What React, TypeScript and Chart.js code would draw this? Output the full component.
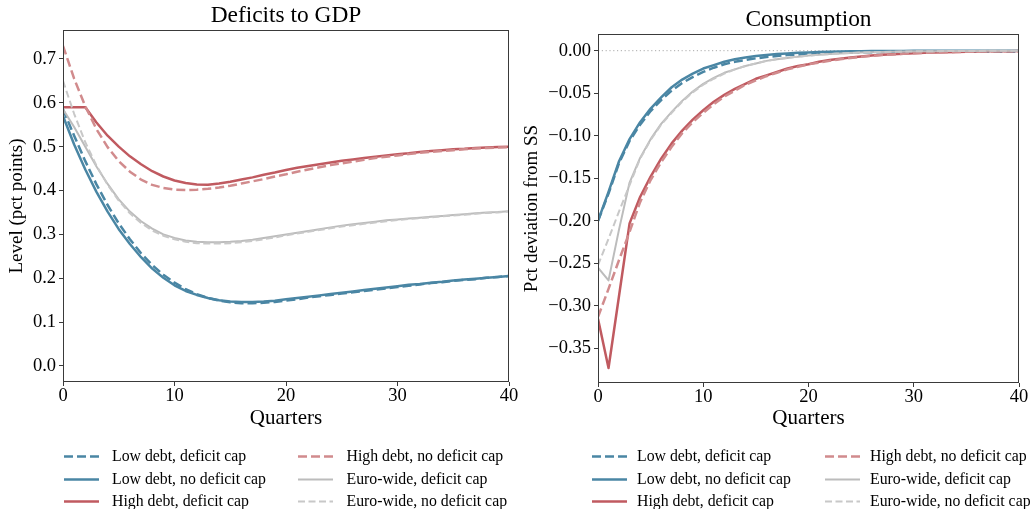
import React, { useEffect, useRef } from 'react';
import { Chart, registerables } from 'chart.js';

Chart.register(...registerables);

// ---------- data ----------
const QUARTERS = [0, 1, 2, 3, 4, 5, 6, 7, 8, 9, 10, 11, 12, 13, 14, 15, 16, 17, 18, 19, 20, 21, 22, 23, 24, 25, 26, 27, 28, 29, 30, 31, 32, 33, 34, 35, 36, 37, 38, 39, 40];
const X_TICKS = [0, 10, 20, 30, 40];
const DEF_Y_TICKS = [0, 0.1, 0.2, 0.3, 0.4, 0.5, 0.6, 0.7];
const CONS_Y_TICKS = [-0.35, -0.3, -0.25, -0.2, -0.15, -0.1, -0.05, 0];

const LEGEND_LABELS = [
  'Low debt, deficit cap',
  'Low debt, no deficit cap',
  'High debt, deficit cap',
  'High debt, no deficit cap',
  'Euro-wide, deficit cap',
  'Euro-wide, no deficit cap',
];

// Deficits to GDP (level, pct points)
const DEF_LOW_CAP = [0.585, 0.525, 0.467, 0.414, 0.367, 0.325, 0.289, 0.257, 0.230, 0.208, 0.190, 0.175, 0.164, 0.155, 0.149, 0.145, 0.143, 0.143, 0.144, 0.146, 0.149, 0.152, 0.156, 0.159, 0.162, 0.165, 0.168, 0.171, 0.174, 0.177, 0.180, 0.183, 0.186, 0.189, 0.191, 0.194, 0.196, 0.198, 0.201, 0.203, 0.205];
const DEF_LOW_NOCAP = [0.570, 0.505, 0.448, 0.397, 0.352, 0.312, 0.278, 0.248, 0.222, 0.201, 0.184, 0.171, 0.162, 0.155, 0.150, 0.147, 0.146, 0.146, 0.147, 0.149, 0.152, 0.155, 0.158, 0.161, 0.164, 0.167, 0.170, 0.173, 0.176, 0.179, 0.182, 0.185, 0.187, 0.190, 0.192, 0.195, 0.197, 0.199, 0.201, 0.203, 0.205];
const DEF_HIGH_CAP = [0.590, 0.590, 0.590, 0.555, 0.525, 0.500, 0.478, 0.460, 0.444, 0.432, 0.423, 0.417, 0.414, 0.413, 0.416, 0.420, 0.425, 0.430, 0.436, 0.441, 0.447, 0.452, 0.456, 0.460, 0.464, 0.468, 0.471, 0.474, 0.477, 0.480, 0.483, 0.485, 0.488, 0.490, 0.492, 0.494, 0.495, 0.497, 0.498, 0.499, 0.500];
const DEF_HIGH_NOCAP = [0.730, 0.655, 0.592, 0.540, 0.499, 0.467, 0.443, 0.425, 0.413, 0.406, 0.402, 0.401, 0.402, 0.404, 0.407, 0.411, 0.416, 0.421, 0.426, 0.432, 0.437, 0.443, 0.448, 0.453, 0.458, 0.462, 0.466, 0.470, 0.474, 0.477, 0.480, 0.483, 0.486, 0.488, 0.490, 0.492, 0.494, 0.496, 0.497, 0.498, 0.499];
const DEF_EURO_CAP = [0.585, 0.545, 0.500, 0.455, 0.415, 0.380, 0.352, 0.330, 0.313, 0.300, 0.292, 0.286, 0.283, 0.282, 0.282, 0.283, 0.285, 0.288, 0.292, 0.296, 0.300, 0.304, 0.308, 0.312, 0.316, 0.320, 0.323, 0.326, 0.329, 0.332, 0.334, 0.336, 0.338, 0.340, 0.342, 0.344, 0.346, 0.348, 0.350, 0.351, 0.353];
const DEF_EURO_NOCAP = [0.650, 0.575, 0.510, 0.457, 0.413, 0.377, 0.348, 0.326, 0.309, 0.297, 0.289, 0.283, 0.280, 0.279, 0.279, 0.280, 0.282, 0.285, 0.289, 0.293, 0.298, 0.302, 0.306, 0.310, 0.314, 0.318, 0.321, 0.324, 0.327, 0.330, 0.333, 0.335, 0.337, 0.339, 0.341, 0.343, 0.345, 0.347, 0.349, 0.350, 0.352];

// Consumption (pct deviation from SS)
const CONS_LOW_CAP = [-0.200, -0.168, -0.132, -0.106, -0.087, -0.071, -0.058, -0.047, -0.038, -0.031, -0.025, -0.020, -0.016, -0.013, -0.011, -0.009, -0.0075, -0.0062, -0.0052, -0.0044, -0.0037, -0.0032, -0.0028, -0.0025, -0.0022, -0.002, -0.0018, -0.0017, -0.0016, -0.0015, -0.0014, -0.0013, -0.0012, -0.0012, -0.0011, -0.0011, -0.001, -0.001, -0.001, -0.0009, -0.0009];
const CONS_LOW_NOCAP = [-0.200, -0.166, -0.130, -0.104, -0.084, -0.068, -0.055, -0.043, -0.034, -0.027, -0.021, -0.017, -0.013, -0.010, -0.008, -0.0063, -0.005, -0.004, -0.0032, -0.0025, -0.002, -0.0016, -0.0013, -0.001, -0.0008, -0.0006, -0.0005, -0.0004, -0.0003, -0.0003, -0.0002, -0.0002, -0.0001, -0.0001, -0.0001, -0.0001, 0, 0, 0, 0, 0];
const CONS_HIGH_CAP = [-0.315, -0.373, -0.288, -0.203, -0.172, -0.148, -0.127, -0.109, -0.094, -0.081, -0.070, -0.060, -0.052, -0.045, -0.039, -0.033, -0.029, -0.025, -0.021, -0.018, -0.016, -0.013, -0.011, -0.0095, -0.008, -0.0068, -0.0058, -0.0049, -0.0041, -0.0035, -0.003, -0.0025, -0.0021, -0.0018, -0.0015, -0.0012, -0.001, -0.0008, -0.0007, -0.0006, -0.0005];
const CONS_HIGH_NOCAP = [-0.313, -0.280, -0.246, -0.213, -0.178, -0.152, -0.131, -0.113, -0.097, -0.084, -0.073, -0.063, -0.054, -0.047, -0.040, -0.035, -0.030, -0.026, -0.022, -0.019, -0.016, -0.014, -0.012, -0.010, -0.0085, -0.0072, -0.0061, -0.0052, -0.0044, -0.0037, -0.0031, -0.0026, -0.0022, -0.0019, -0.0016, -0.0013, -0.0011, -0.0009, -0.0008, -0.0007, -0.0006];
const CONS_EURO_CAP = [-0.255, -0.270, -0.210, -0.155, -0.126, -0.104, -0.086, -0.072, -0.059, -0.048, -0.039, -0.032, -0.026, -0.022, -0.018, -0.015, -0.012, -0.010, -0.0085, -0.007, -0.0058, -0.0048, -0.004, -0.0033, -0.0027, -0.0022, -0.0018, -0.0015, -0.0012, -0.001, -0.0008, -0.0007, -0.0006, -0.0005, -0.0004, -0.0003, -0.0003, -0.0002, -0.0002, -0.0002, -0.0001];
const CONS_EURO_NOCAP = [-0.252, -0.221, -0.189, -0.158, -0.127, -0.105, -0.087, -0.073, -0.060, -0.049, -0.040, -0.033, -0.027, -0.022, -0.018, -0.015, -0.012, -0.010, -0.0085, -0.007, -0.0058, -0.0048, -0.004, -0.0033, -0.0027, -0.0022, -0.0018, -0.0015, -0.0012, -0.001, -0.0008, -0.0007, -0.0006, -0.0005, -0.0004, -0.0003, -0.0003, -0.0002, -0.0002, -0.0002, -0.0001];
const CONS_ZERO = [0, 0, 0, 0, 0, 0, 0, 0, 0, 0, 0, 0, 0, 0, 0, 0, 0, 0, 0, 0, 0, 0, 0, 0, 0, 0, 0, 0, 0, 0, 0, 0, 0, 0, 0, 0, 0, 0, 0, 0, 0];

// ---------- styles ----------
const BLUE = '#4a86a4';
const RED = '#c05a60';
const RED_LIGHT = '#d18b8d';
const GRAY = '#bcbcbc';
const GRAY_LIGHT = '#c8c8c8';
const DASH = [9, 4];

type Style = { color: string; width: number; dash: number[] };
const STYLES: Style[] = [
  { color: BLUE, width: 2.5, dash: DASH },
  { color: BLUE, width: 2.5, dash: [] },
  { color: RED, width: 2.5, dash: [] },
  { color: RED_LIGHT, width: 2.5, dash: DASH },
  { color: GRAY, width: 2, dash: [] },
  { color: GRAY_LIGHT, width: 2, dash: [7, 3.5] },
];

const FONT = "'Liberation Serif', 'Times New Roman', serif";

function toPoints(vals: number[]) {
  return vals.map((v, i) => ({ x: QUARTERS[i], y: v }));
}

type PanelSpec = {
  title: string;
  yTitle: string;
  series: number[][];
  zero?: number[];
  yMin: number;
  yMax: number;
  yTicks: number[];
  fmt: (v: number) => string;
  yWidth: number;
  xHeight: number;
  padRight: number;
  padTop: number;
  titleY: number;
  cols: { handle: number; text: number }[];
};

const LEGEND_ROWS = [456.5, 479.5, 501.5];

function makeLegendPlugin(cols: { handle: number; text: number }[]) {
  return {
    id: 'seriesLegend',
    afterDraw(chart: any) {
      const ctx = chart.ctx as CanvasRenderingContext2D;
      ctx.save();
      LEGEND_LABELS.forEach((label, i) => {
        const col = cols[Math.floor(i / 3)];
        const y = LEGEND_ROWS[i % 3];
        const st = STYLES[i];
        ctx.strokeStyle = st.color;
        ctx.lineWidth = st.width;
        ctx.lineCap = 'butt';
        ctx.setLineDash(st.dash);
        ctx.beginPath();
        ctx.moveTo(col.handle, y);
        ctx.lineTo(col.handle + 35, y);
        ctx.stroke();
        ctx.setLineDash([]);
        ctx.fillStyle = '#000';
        ctx.font = `15.8px ${FONT}`;
        ctx.textAlign = 'left';
        ctx.textBaseline = 'middle';
        ctx.fillText(label, col.text, y + 0.5);
      });
      ctx.restore();
    },
  };
}

function makeTitlePlugin(text: string, y: number) {
  return {
    id: 'panelTitle',
    afterDraw(chart: any) {
      const { ctx, chartArea } = chart;
      ctx.save();
      ctx.fillStyle = '#000';
      ctx.font = `23.4px ${FONT}`;
      ctx.textAlign = 'center';
      ctx.textBaseline = 'middle';
      ctx.fillText(text, (chartArea.left + chartArea.right) / 2, y);
      ctx.restore();
    },
  };
}

const framePlugin = {
  id: 'frame',
  afterDatasetsDraw(chart: any) {
    const { ctx, chartArea } = chart;
    ctx.save();
    ctx.strokeStyle = '#3a3a3a';
    ctx.lineWidth = 1;
    ctx.strokeRect(
      Math.round(chartArea.left) + 0.5,
      Math.round(chartArea.top) + 0.5,
      Math.round(chartArea.right - chartArea.left) - 1,
      Math.round(chartArea.bottom - chartArea.top) - 1
    );
    ctx.restore();
  },
};

function makeConfig(p: PanelSpec): any {
  const datasets: any[] = [];
  // matplotlib draws later series on top; Chart.js draws index 0 on top
  for (let i = p.series.length - 1; i >= 0; i--) {
    const st = STYLES[i];
    datasets.push({
      label: LEGEND_LABELS[i],
      data: toPoints(p.series[i]),
      borderColor: st.color,
      borderWidth: st.width,
      borderDash: st.dash,
      borderCapStyle: 'butt',
      borderJoinStyle: 'round',
      pointRadius: 0,
      tension: 0,
      fill: false,
    });
  }
  if (p.zero) {
    datasets.push({
      label: 'zero',
      data: toPoints(p.zero),
      borderColor: '#aaaaaa',
      borderWidth: 1,
      borderDash: [1.2, 2.6],
      pointRadius: 0,
      tension: 0,
      fill: false,
    });
  }
  const tickFont = { family: FONT, size: 18.5, lineHeight: 1 };
  const grid = {
    display: true,
    drawOnChartArea: false,
    drawTicks: true,
    tickLength: 4,
    color: '#3a3a3a',
    lineWidth: 1,
  };
  return {
    type: 'line',
    data: { datasets },
    options: {
      responsive: false,
      animation: false,
      devicePixelRatio: 1,
      events: [],
      layout: { padding: { left: 0, right: p.padRight, top: p.padTop, bottom: 80.5 } },
      plugins: {
        legend: { display: false },
        tooltip: { enabled: false },
        title: { display: false },
      },
      scales: {
        x: {
          type: 'linear',
          min: 0,
          max: 40,
          grid,
          border: { display: false },
          afterBuildTicks: (s: any) => {
            s.ticks = X_TICKS.map((v) => ({ value: v }));
          },
          afterFit: (s: any) => {
            s.height = p.xHeight;
            s.paddingLeft = 0;
            s.paddingRight = 0;
          },
          ticks: {
            color: '#000',
            font: tickFont,
            padding: 1,
            maxRotation: 0,
            autoSkip: false,
            callback: (v: number) => String(v),
          },
          title: {
            display: true,
            text: 'Quarters',
            color: '#000',
            font: { family: FONT, size: 21, lineHeight: 1 },
            padding: { top: 0, bottom: 0 },
          },
        },
        y: {
          type: 'linear',
          min: p.yMin,
          max: p.yMax,
          grid,
          border: { display: false },
          afterBuildTicks: (s: any) => {
            s.ticks = p.yTicks.map((v) => ({ value: v }));
          },
          afterFit: (s: any) => {
            s.width = p.yWidth;
            s.paddingTop = 0;
            s.paddingBottom = 0;
          },
          ticks: {
            color: '#000',
            font: tickFont,
            padding: 3,
            autoSkip: false,
            callback: (v: number) => p.fmt(v),
          },
          title: {
            display: true,
            text: p.yTitle,
            color: '#000',
            font: { family: FONT, size: 19, lineHeight: 1 },
            padding: { top: 8, bottom: 0 },
          },
        },
      },
    },
    plugins: [framePlugin, makeTitlePlugin(p.title, p.titleY), makeLegendPlugin(p.cols)],
  };
}

const fmt1 = (v: number) => v.toFixed(1);
const fmt2 = (v: number) => (v < -1e-9 ? '\u2212' : '') + Math.abs(v).toFixed(2);

export default function App() {
  const leftRef = useRef<HTMLCanvasElement>(null);
  const rightRef = useRef<HTMLCanvasElement>(null);

  useEffect(() => {
    const left = new Chart(
      leftRef.current as HTMLCanvasElement,
      makeConfig({
        title: 'Deficits to GDP',
        yTitle: 'Level (pct points)',
        series: [DEF_LOW_CAP, DEF_LOW_NOCAP, DEF_HIGH_CAP, DEF_HIGH_NOCAP, DEF_EURO_CAP, DEF_EURO_NOCAP],
        yMin: -0.0365,
        yMax: 0.766,
        yTicks: DEF_Y_TICKS,
        fmt: fmt1,
        yWidth: 63,
        xHeight: 46.5,
        padRight: 21,
        padTop: 30,
        titleY: 16,
        cols: [
          { handle: 64, text: 112 },
          { handle: 298, text: 346.5 },
        ],
      })
    );
    const right = new Chart(
      rightRef.current as HTMLCanvasElement,
      makeConfig({
        title: 'Consumption',
        yTitle: 'Pct deviation from SS',
        series: [CONS_LOW_CAP, CONS_LOW_NOCAP, CONS_HIGH_CAP, CONS_HIGH_NOCAP, CONS_EURO_CAP, CONS_EURO_NOCAP],
        zero: CONS_ZERO,
        yMin: -0.3906,
        yMax: 0.0196,
        yTicks: CONS_Y_TICKS,
        fmt: fmt2,
        yWidth: 83,
        xHeight: 45.5,
        padRight: 11,
        padTop: 34,
        titleY: 20,
        cols: [
          { handle: 77, text: 122 },
          { handle: 310, text: 355 },
        ],
      })
    );
    return () => {
      left.destroy();
      right.destroy();
    };
  }, []);

  return (
    <div style={{ position: 'absolute', left: 0, top: 0, width: 1030, height: 509, background: '#fff' }}>
      <canvas ref={leftRef} width={530} height={509} style={{ position: 'absolute', left: 0, top: 0, width: 530, height: 509 }} />
      <canvas ref={rightRef} width={515} height={509} style={{ position: 'absolute', left: 515, top: 0, width: 515, height: 509 }} />
    </div>
  );
}
